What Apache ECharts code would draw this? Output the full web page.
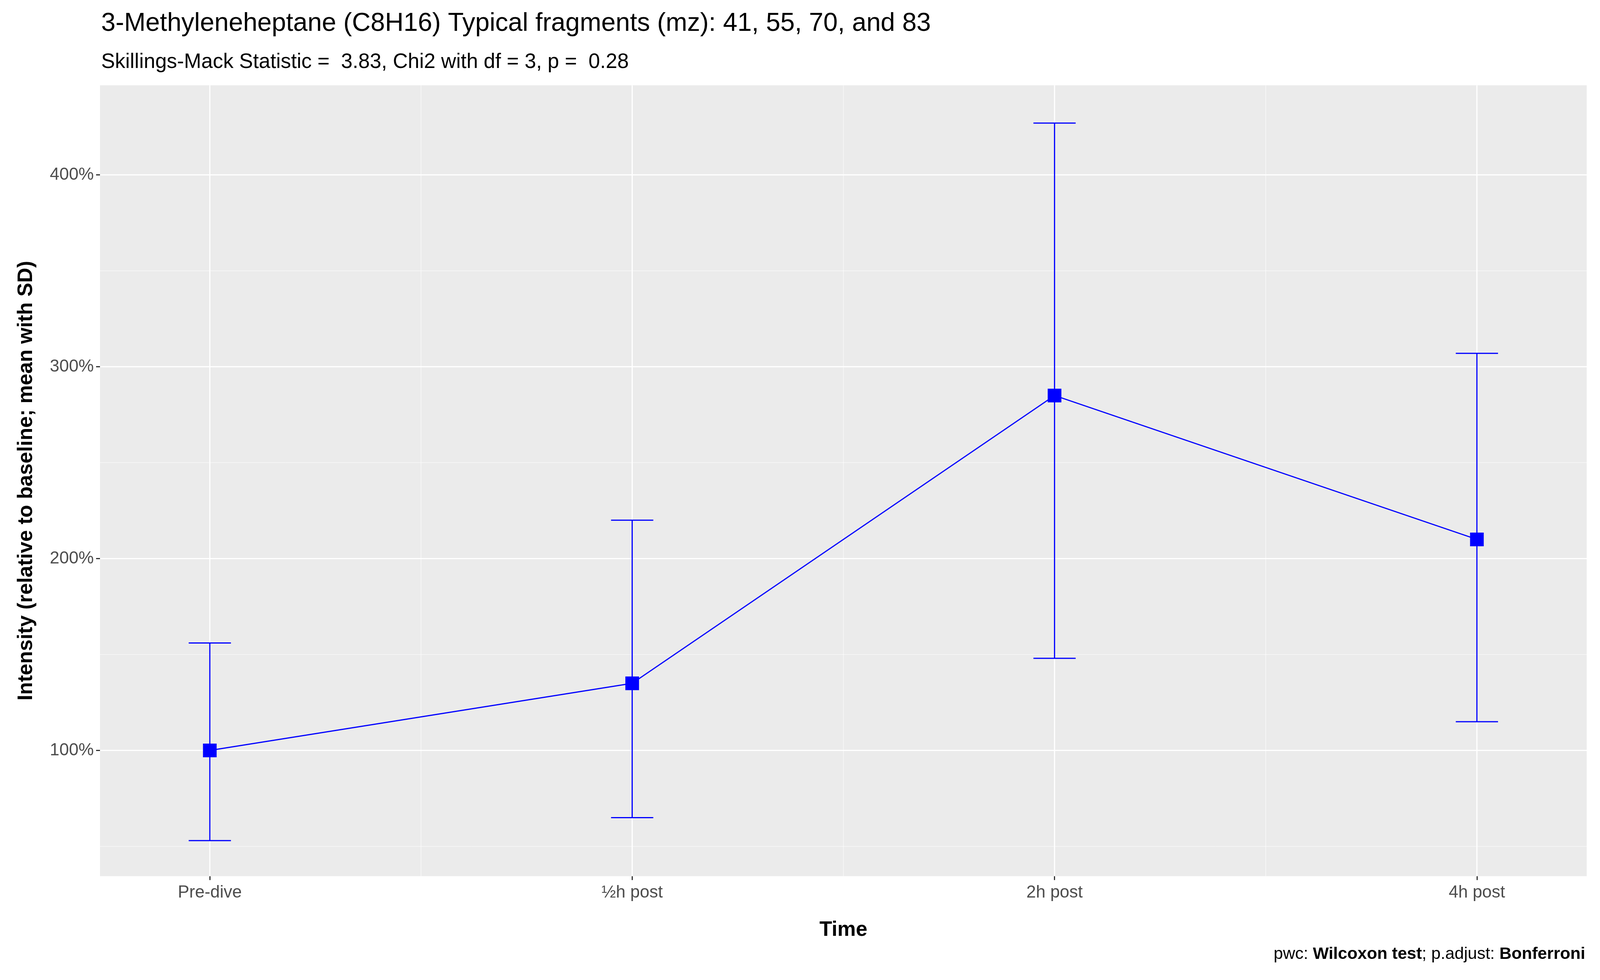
<!DOCTYPE html>
<html lang="en">
<head>
    <meta charset="UTF-8">
    <title>3-Methyleneheptane</title>
    <script src="https://cdn.jsdelivr.net/npm/echarts@6/dist/echarts.min.js"></script>
</head>
<body style="margin:0;overflow:hidden">
<div id="main" style="width: 100vw;height:100vh;"></div>
<script type="text/javascript">
    var categories = ['Pre-dive', '½h post', '2h post', '4h post'];
    var meanVals = [100, 135, 285, 210];
    var lowerVals = [53, 65, 148, 115];
    var upperVals = [156, 220, 427, 307];
    var yMajor = [100, 200, 300, 400];
    var yMinor = [50, 150, 250, 350];
    var xMajor = [1, 2, 3, 4];
    var xMinor = [1.5, 2.5, 3.5];

    var lineData = [];
    var barData = [];
    for (var i = 0; i < categories.length; i++) {
        lineData.push([i + 1, meanVals[i]]);
        barData.push([i + 1, lowerVals[i], upperVals[i]]);
    }

    var myChart = echarts.init(document.getElementById('main'));
    var W = myChart.getWidth(), H = myChart.getHeight();
    var k = W / 1568; // reference display scale
    var f = function (px) { return Math.round(px * k * 1.0); };

    var option = {
        backgroundColor: '#ffffff',
        animation: false,
        title: [
            {text: '3-Methyleneheptane (C8H16) Typical fragments (mz): 41, 55, 70, and 83',
             left: '6.2%', top: '0.9%', textStyle: {fontFamily: 'Liberation Sans', fontSize: f(25.3), fontWeight: 'normal', color: '#000'}},
            {text: 'Skillings-Mack Statistic =  3.83, Chi2 with df = 3, p =  0.28',
             left: '6.2%', top: '5.1%', textStyle: {fontFamily: 'Liberation Sans', fontSize: f(20.4), fontWeight: 'normal', color: '#000'}},
            {text: 'pwc: {b|Wilcoxon test}; p.adjust: {b|Bonferroni}',
             right: '0.8%', top: '96.3%', textStyle: {fontFamily: 'Liberation Sans', fontSize: f(16.4), fontWeight: 'normal', color: '#000',
                rich: {b: {fontFamily: 'Liberation Sans', fontSize: f(16.4), fontWeight: 'bold', color: '#000'}}}}
        ],
        grid: {left: '6.25%', right: '0.83%', top: '8.7%', bottom: '10.6%', show: true, backgroundColor: '#EBEBEB', borderWidth: 0},
        xAxis: {
            type: 'value', min: 0.74, max: 4.26,
            name: 'Time', nameLocation: 'middle', nameGap: f(43),
            nameTextStyle: {fontFamily: 'Liberation Sans', fontSize: f(20.4), fontWeight: 'bold', color: '#000'},
            axisLine: {show: false},
            axisTick: {show: true, customValues: xMajor, length: f(4), lineStyle: {color: '#333', width: f(1.1)}},
            axisLabel: {customValues: xMajor, margin: f(8), fontFamily: 'Liberation Sans', fontSize: f(16.8), color: '#4D4D4D',
                formatter: function (v) { return categories[Math.round(v) - 1]; }},
            splitLine: {show: false}
        },
        yAxis: {
            type: 'value', min: 34.5, max: 446.7,
            name: 'Intensity (relative to baseline; mean with SD)', nameLocation: 'middle', nameGap: f(62),
            nameTextStyle: {fontFamily: 'Liberation Sans', fontSize: f(20.4), fontWeight: 'bold', color: '#000'},
            axisLine: {show: false},
            axisTick: {show: true, customValues: yMajor, length: f(4), lineStyle: {color: '#333', width: f(1.1)}},
            axisLabel: {customValues: yMajor, margin: f(6), fontFamily: 'Liberation Sans', fontSize: f(16.8), color: '#4D4D4D',
                formatter: '{value}%'},
            splitLine: {show: false}
        },
        series: [
            {
                type: 'custom', z: 1, silent: true, data: [[0]],
                renderItem: function (params, api) {
                    var kids = [];
                    var x0 = 0.74, x1 = 4.26, y0 = 34.5, y1 = 446.7;
                    function add(a, b, w) {
                        kids.push({type: 'line', shape: {x1: a[0], y1: a[1], x2: b[0], y2: b[1]},
                            style: {stroke: '#ffffff', lineWidth: w}});
                    }
                    yMinor.forEach(function (v) { add(api.coord([x0, v]), api.coord([x1, v]), f(0.55)); });
                    xMinor.forEach(function (v) { add(api.coord([v, y0]), api.coord([v, y1]), f(0.55)); });
                    yMajor.forEach(function (v) { add(api.coord([x0, v]), api.coord([x1, v]), f(1.1)); });
                    xMajor.forEach(function (v) { add(api.coord([v, y0]), api.coord([v, y1]), f(1.1)); });
                    return {type: 'group', children: kids};
                }
            },
            {
                type: 'custom', z: 3, data: barData,
                renderItem: function (params, api) {
                    var x = api.value(0);
                    var lo = api.coord([x, api.value(1)]);
                    var hi = api.coord([x, api.value(2)]);
                    var l = api.coord([x - 0.05, api.value(1)]);
                    var r = api.coord([x + 0.05, api.value(1)]);
                    var style = {stroke: '#0000FF', lineWidth: f(1.1)};
                    return {type: 'group', children: [
                        {type: 'line', shape: {x1: lo[0], y1: lo[1], x2: hi[0], y2: hi[1]}, style: style},
                        {type: 'line', shape: {x1: l[0], y1: lo[1], x2: r[0], y2: lo[1]}, style: style},
                        {type: 'line', shape: {x1: l[0], y1: hi[1], x2: r[0], y2: hi[1]}, style: style}
                    ]};
                }
            },
            {
                type: 'line', z: 4, data: lineData,
                symbol: 'rect', symbolSize: f(13.5),
                lineStyle: {color: '#0000FF', width: f(1.1)},
                itemStyle: {color: '#0000FF'}
            }
        ]
    };
    myChart.setOption(option);
</script>
</body>
</html>
